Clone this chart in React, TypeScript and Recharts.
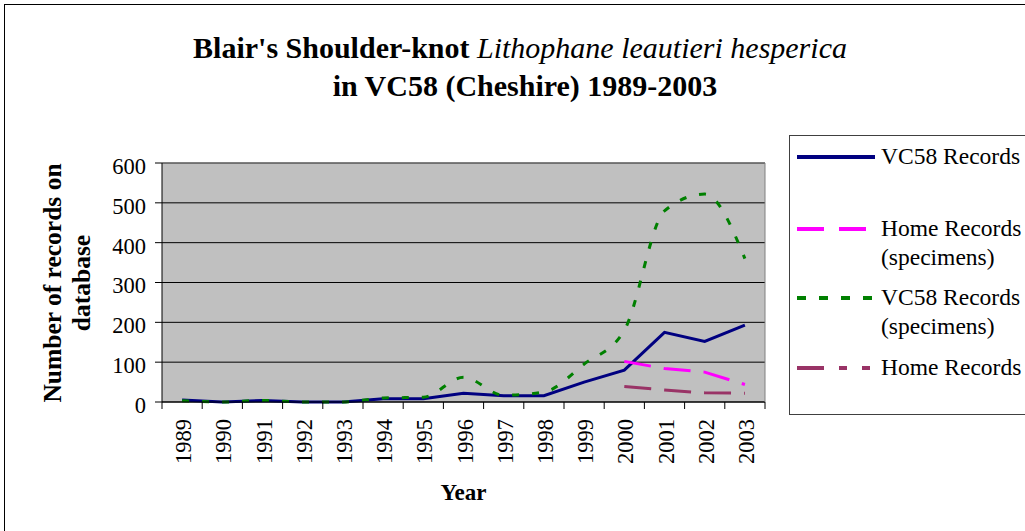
import React from 'react';
import { LineChart, Line, XAxis, YAxis, CartesianGrid } from 'recharts';

const FONT = "'Liberation Serif', serif";

// data
const years = ['1989', '1990', '1991', '1992', '1993', '1994', '1995', '1996', '1997', '1998', '1999', '2000', '2001', '2002', '2003'];
const vc58Records = [5, 0, 4, 0, 0, 8, 8, 22, 16, 16, 50, 80, 175, 152, 193];
const homeSpecimens = [null, null, null, null, null, null, null, null, null, null, null, 102, 84, 75, 44];
const vc58Specimens = [3, 0, 4, 0, 0, 10, 12, 62, 17, 25, 95, 180, 480, 522, 360];
const homeRecords = [null, null, null, null, null, null, null, null, null, null, null, 39, 30, 23, 22];
const yTicks = [0, 100, 200, 300, 400, 500, 600];

const data = years.map((year, i) => ({
  year,
  vc58: vc58Records[i],
  homeSpec: homeSpecimens[i],
  vc58Spec: vc58Specimens[i],
  home: homeRecords[i],
}));

const series = [
  { key: 'vc58', label: ['VC58 Records'], color: '#000080', dash: undefined, legendDash: undefined, curve: 'linear' },
  { key: 'homeSpec', label: ['Home Records', '(specimens)'], color: '#FF00FF', dash: '27 13', legendDash: '27 15', curve: 'linear' },
  { key: 'vc58Spec', label: ['VC58 Records', '(specimens)'], color: '#008000', dash: '7 13', legendDash: '9 13', curve: 'monotone' },
  { key: 'home', label: ['Home Records'], color: '#993366', dash: '27 13', legendDash: '27 15 8 15 8 15', curve: 'linear' },
];

const W = 1025;
const H = 531;
const PLOT_LEFT = 162;
const PLOT_RIGHT = 765;
const BAND = (PLOT_RIGHT - PLOT_LEFT) / years.length;

const YearTick = (props: any) => {
  const { x, y, payload, index } = props;
  const half = BAND / 2;
  const tx = x + 9;
  const ty = y + 17;
  return (
    <g>
      <line x1={x - half} y1={y} x2={x - half} y2={y + 7} stroke="#000" />
      {index === years.length - 1 && <line x1={x + half} y1={y} x2={x + half} y2={y + 7} stroke="#000" />}
      <text
        x={tx}
        y={ty}
        transform={`rotate(-90, ${tx}, ${ty})`}
        textAnchor="end"
        fontSize={22.5}
        fontFamily={FONT}
        fill="#000"
      >
        {payload.value}
      </text>
    </g>
  );
};

const legendRows = [141.7, 213.7, 282.7, 352.7];

const txt: React.CSSProperties = { fontFamily: FONT, color: '#000', whiteSpace: 'nowrap' };

export default function App() {
  return (
    <div style={{ position: 'absolute', left: 0, top: 0, width: W, height: H, overflow: 'hidden', background: '#fff' }}>
      <div style={{ position: 'absolute', left: 4, top: 4, width: 1200, height: 800, border: '1px solid #000' }} />

      <div style={{ ...txt, position: 'absolute', left: 120, top: 33, width: 800, textAlign: 'center', fontSize: 30, lineHeight: '30px' }}>
        <span style={{ fontFamily: FONT, fontWeight: 'bold' }}>Blair's Shoulder-knot </span>
        <span style={{ fontFamily: FONT, fontStyle: 'italic' }}>Lithophane leautieri hesperica</span>
      </div>
      <div style={{ ...txt, position: 'absolute', left: 125, top: 71, width: 800, textAlign: 'center', fontSize: 30, lineHeight: '30px', fontWeight: 'bold' }}>
        in VC58 (Cheshire) 1989-2003
      </div>

      <div
        style={{
          ...txt,
          position: 'absolute',
          left: 67,
          top: 283,
          transform: 'translate(-50%, -50%) rotate(-90deg)',
          fontSize: 25.5,
          lineHeight: '29px',
          fontWeight: 'bold',
          textAlign: 'center',
        }}
      >
        Number of records on
        <br />
        database
      </div>

      <div style={{ position: 'absolute', left: 0, top: 0 }}>
        <LineChart width={W} height={H} data={data} margin={{ top: 162, right: 259, bottom: 29, left: 100 }}>
          <CartesianGrid vertical={false} fill="#C0C0C0" fillOpacity={1} stroke="#000" />
          <XAxis
            dataKey="year"
            interval={0}
            padding={{ left: BAND / 2, right: BAND / 2 }}
            height={100}
            tickSize={0}
            tickMargin={0}
            tickLine={false}
            axisLine={{ stroke: '#000' }}
            tick={YearTick}
            label={{ value: 'Year', position: 'insideBottom', offset: 2, fontSize: 23, fontWeight: 'bold', fill: '#000', fontFamily: FONT }}
          />
          <XAxis xAxisId="top" orientation="top" dataKey="year" height={1} tick={false} tickLine={false} axisLine={{ stroke: '#808080' }} />
          <YAxis
            width={62}
            domain={[0, 600]}
            ticks={yTicks}
            interval={0}
            tickSize={7}
            tickMargin={9}
            tickLine={{ stroke: '#000' }}
            axisLine={{ stroke: '#000' }}
            tick={{ fontSize: 22.5, fontFamily: FONT, fill: '#000', dy: 3 }}
          />
          <YAxis yAxisId="right" orientation="right" width={1} domain={[0, 600]} tick={false} tickLine={false} axisLine={{ stroke: '#808080' }} />
          {series.map((s) => (
            <Line
              key={s.key}
              dataKey={s.key}
              type={s.curve as any}
              stroke={s.color}
              strokeWidth={3}
              strokeDasharray={s.dash}
              dot={false}
              activeDot={false}
              connectNulls={false}
              isAnimationActive={false}
            />
          ))}
        </LineChart>
      </div>

      <div style={{ position: 'absolute', left: 789, top: 135, width: 400, height: 280, border: '1px solid #404040', boxSizing: 'border-box' }} />
      {series.map((s, i) => (
        <div key={s.key} style={{ ...txt, position: 'absolute', left: 797, top: legendRows[i], fontSize: 23.5, lineHeight: '29px' }}>
          <svg width={78} height={6} style={{ position: 'absolute', left: 0, top: 12 }}>
            <line x1={0} y1={3} x2={78} y2={3} stroke={s.color} strokeWidth={4} strokeDasharray={s.legendDash} />
          </svg>
          <div style={{ ...txt, position: 'absolute', left: 84, top: 0 }}>
            {s.label.map((t, j) => (
              <div key={j} style={txt}>{t}</div>
            ))}
          </div>
        </div>
      ))}
    </div>
  );
}
